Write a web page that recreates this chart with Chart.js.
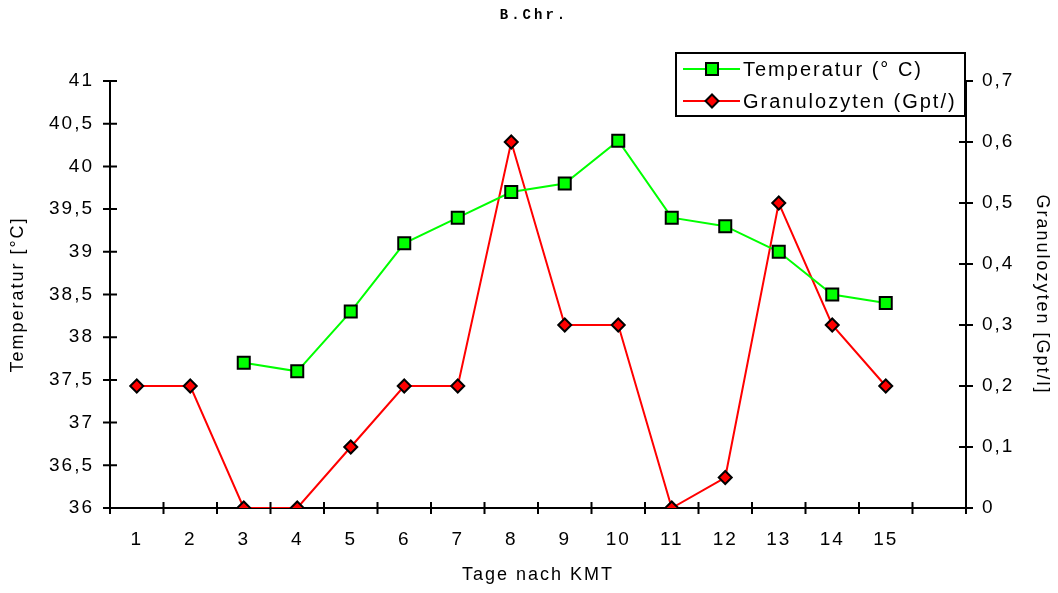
<!DOCTYPE html>
<html>
<head>
<meta charset="utf-8">
<script src="https://cdn.jsdelivr.net/npm/chart.js@4/dist/chart.umd.min.js"></script>
<style>
  html, body { margin: 0; padding: 0; background: #fff; }
  canvas { display: block; }
</style>
</head>
<body>
<canvas id="grafico" width="1058" height="593"></canvas>
<script>
// Daten
const tage = ['1', '2', '3', '4', '5', '6', '7', '8', '9', '10', '11', '12', '13', '14', '15', ''];
const temperatur = [null, null, 37.7, 37.6, 38.3, 39.1, 39.4, 39.7, 39.8, 40.3, 39.4, 39.3, 39.0, 38.5, 38.4, null];
const granulozyten = [0.2, 0.2, 0, 0, 0.1, 0.2, 0.2, 0.6, 0.3, 0.3, 0, 0.05, 0.5, 0.3, 0.2, null];
const tempMin = 36, tempMax = 41, tempStep = 0.5;
const granMin = 0, granMax = 0.7, granStep = 0.1;

const schrift = '"Liberation Sans", Arial, sans-serif';
const komma = v => String(Number(v.toFixed(2))).replace('.', ',');

// Abstand der Buchstaben wie im Original
const abstand = {
  id: 'abstand',
  beforeUpdate(chart) { chart.ctx.letterSpacing = '2px'; },
  beforeDraw(chart) { chart.ctx.letterSpacing = '2px'; }
};

// Striche, die die Achsen kreuzen, Titel und Legende
const extras = {
  id: 'extras',
  afterDraw(chart) {
    const ctx = chart.ctx;
    const { x, yT, yG } = chart.scales;
    ctx.save();
    ctx.strokeStyle = '#000';
    ctx.lineWidth = 2;
    ctx.beginPath();
    yT.ticks.forEach((t, i) => {
      const p = yT.getPixelForTick(i);
      ctx.moveTo(yT.right - 7, p); ctx.lineTo(yT.right + 7, p);
    });
    yG.ticks.forEach((t, i) => {
      const p = yG.getPixelForTick(i);
      ctx.moveTo(yG.left - 7, p); ctx.lineTo(yG.left + 7, p);
    });
    const step = x.getPixelForValue(1) - x.getPixelForValue(0);
    for (let i = 0; i <= tage.length; i++) {
      const p = x.getPixelForValue(0) - step / 2 + i * step;
      ctx.moveTo(p, x.top - 6); ctx.lineTo(p, x.top + 6);
    }
    ctx.stroke();

    // Titel
    ctx.fillStyle = '#000';
    ctx.font = 'bold 14px "Liberation Mono", "Courier New", monospace';
    ctx.letterSpacing = '3px';
    ctx.textAlign = 'center';
    ctx.textBaseline = 'middle';
    ctx.fillText('B.Chr.', 534, 15);

    // Legende
    ctx.letterSpacing = '2px';
    ctx.fillStyle = '#fff';
    ctx.fillRect(676, 53, 289, 63);
    ctx.strokeRect(676, 53, 289, 63);
    ctx.font = '20px ' + schrift;
    ctx.textAlign = 'left';
    const zeilen = [
      { text: 'Temperatur (° C)', farbe: '#00ff00', y: 69, form: 'rect' },
      { text: 'Granulozyten (Gpt/)', farbe: '#ff0000', y: 101, form: 'rectRot' }
    ];
    zeilen.forEach(z => {
      ctx.strokeStyle = z.farbe;
      ctx.lineWidth = 2;
      ctx.beginPath();
      ctx.moveTo(683, z.y); ctx.lineTo(740, z.y);
      ctx.stroke();
      ctx.strokeStyle = '#000';
      ctx.fillStyle = z.farbe;
      Chart.helpers.drawPoint(ctx, {
        pointStyle: z.form, radius: z.form === 'rect' ? 8.5 : 6.5, rotation: 0, borderWidth: 2
      }, 712, z.y);
      ctx.fillStyle = '#000';
      ctx.fillText(z.text, 743, z.y + 1);
    });
    ctx.restore();
  }
};

const ctx = document.getElementById('grafico').getContext('2d');
new Chart(ctx, {
  type: 'line',
  data: {
    labels: tage,
    datasets: [{
      label: 'Temperatur (° C)',
      data: temperatur,
      yAxisID: 'yT',
      borderColor: '#00ff00',
      backgroundColor: '#00ff00',
      borderWidth: 2,
      pointStyle: 'rect',
      pointRadius: 8.5,
      pointBorderColor: '#000',
      pointBorderWidth: 2,
      pointBackgroundColor: '#00ff00',
      tension: 0
    }, {
      label: 'Granulozyten (Gpt/)',
      data: granulozyten,
      yAxisID: 'yG',
      borderColor: '#ff0000',
      backgroundColor: '#ff0000',
      borderWidth: 2,
      pointStyle: 'rectRot',
      pointRadius: 6.5,
      pointBorderColor: '#000',
      pointBorderWidth: 2,
      pointBackgroundColor: '#ff0000',
      tension: 0
    }]
  },
  options: {
    responsive: false,
    animation: false,
    devicePixelRatio: 1,
    layout: { padding: { top: 81, left: 0, right: 0, bottom: 0 } },
    plugins: {
      legend: { display: false },
      title: { display: false },
      tooltip: { enabled: false }
    },
    scales: {
      x: {
        offset: true,
        grid: { display: false, drawTicks: false },
        border: { display: true, color: '#000', width: 2 },
        ticks: { color: '#000', font: { family: schrift, size: 19 }, padding: 20, maxRotation: 0, autoSkip: false },
        title: { display: true, text: 'Tage nach KMT', color: '#000', font: { family: schrift, size: 18 }, padding: { top: 7, bottom: 7 } },
        afterFit(s) { s.height = 85; }
      },
      yT: {
        position: 'left',
        min: tempMin, max: tempMax,
        grid: { display: false, drawTicks: false },
        border: { display: true, color: '#000', width: 2 },
        ticks: { stepSize: tempStep, color: '#000', font: { family: schrift, size: 19 }, padding: 16, callback: komma },
        title: { display: true, text: 'Temperatur [°C]', color: '#000', font: { family: schrift, size: 18 }, padding: { top: 7, bottom: 7 } },
        afterFit(s) { s.width = 110; }
      },
      yG: {
        position: 'right',
        min: granMin, max: granMax,
        grid: { display: false, drawTicks: false },
        border: { display: true, color: '#000', width: 2 },
        ticks: { stepSize: granStep, color: '#000', font: { family: schrift, size: 19 }, padding: 16, callback: komma },
        title: { display: true, text: 'Granulozyten [Gpt/l]', color: '#000', font: { family: schrift, size: 18 }, padding: { top: 5, bottom: 5 } },
        afterFit(s) { s.width = 92; }
      }
    }
  },
  plugins: [abstand, extras]
});
</script>
</body>
</html>
